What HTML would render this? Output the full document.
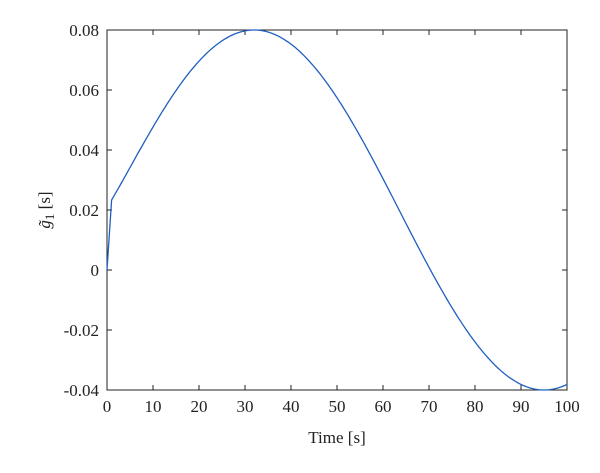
<!DOCTYPE html>
<html><head><meta charset="utf-8"><style>
html,body{margin:0;padding:0;background:#fff;}
svg text{font-family:"Liberation Serif",serif;font-size:17px;fill:#222;}
</style></head><body>
<svg width="600" height="468" xmlns="http://www.w3.org/2000/svg">
<rect x="107" y="30" width="460" height="360" fill="#fff" stroke="#222" stroke-width="1"/>
<g stroke="#222" stroke-width="1">
<line x1="107" y1="30" x2="112" y2="30"/><line x1="567" y1="30" x2="562" y2="30"/>
<line x1="107" y1="90" x2="112" y2="90"/><line x1="567" y1="90" x2="562" y2="90"/>
<line x1="107" y1="150" x2="112" y2="150"/><line x1="567" y1="150" x2="562" y2="150"/>
<line x1="107" y1="210" x2="112" y2="210"/><line x1="567" y1="210" x2="562" y2="210"/>
<line x1="107" y1="270" x2="112" y2="270"/><line x1="567" y1="270" x2="562" y2="270"/>
<line x1="107" y1="330" x2="112" y2="330"/><line x1="567" y1="330" x2="562" y2="330"/>
<line x1="153" y1="390" x2="153" y2="385"/><line x1="153" y1="30" x2="153" y2="35"/>
<line x1="199" y1="390" x2="199" y2="385"/><line x1="199" y1="30" x2="199" y2="35"/>
<line x1="245" y1="390" x2="245" y2="385"/><line x1="245" y1="30" x2="245" y2="35"/>
<line x1="291" y1="390" x2="291" y2="385"/><line x1="291" y1="30" x2="291" y2="35"/>
<line x1="337" y1="390" x2="337" y2="385"/><line x1="337" y1="30" x2="337" y2="35"/>
<line x1="383" y1="390" x2="383" y2="385"/><line x1="383" y1="30" x2="383" y2="35"/>
<line x1="429" y1="390" x2="429" y2="385"/><line x1="429" y1="30" x2="429" y2="35"/>
<line x1="475" y1="390" x2="475" y2="385"/><line x1="475" y1="30" x2="475" y2="35"/>
<line x1="521" y1="390" x2="521" y2="385"/><line x1="521" y1="30" x2="521" y2="35"/>
</g>
<g text-anchor="end">
<text x="99" y="36">0.08</text><text x="99" y="96">0.06</text><text x="99" y="156">0.04</text>
<text x="99" y="216">0.02</text><text x="99" y="276">0</text><text x="99" y="336">-0.02</text>
<text x="99" y="396">-0.04</text>
</g>
<g text-anchor="middle">
<text x="107" y="412">0</text><text x="153" y="412">10</text><text x="199" y="412">20</text>
<text x="245" y="412">30</text><text x="291" y="412">40</text><text x="337" y="412">50</text>
<text x="383" y="412">60</text><text x="429" y="412">70</text><text x="475" y="412">80</text>
<text x="521" y="412">90</text><text x="567" y="412">100</text>
<text x="337" y="443" font-size="18">Time [s]</text>
</g>
<text transform="translate(50,210) rotate(-90)" text-anchor="middle" font-size="19"><tspan font-style="italic">g̃</tspan><tspan font-size="13" dy="4">1</tspan><tspan dy="-4"> [s]</tspan></text>
<polyline id="c" fill="none" stroke="#1f5fbf" stroke-width="1.3" points=""/>
<script>
var p=["107,270"];
for(var t=1;t<=100;t+=0.5){var g=0.02+0.06*Math.cos(Math.PI*(t-32)/63)+0.0018*Math.exp(-(t-1)/5);
p.push((107+4.6*t).toFixed(1)+","+(270-g*3000).toFixed(1));}
document.getElementById("c").setAttribute("points",p.join(" "));
</script>
</svg>
</body></html>
